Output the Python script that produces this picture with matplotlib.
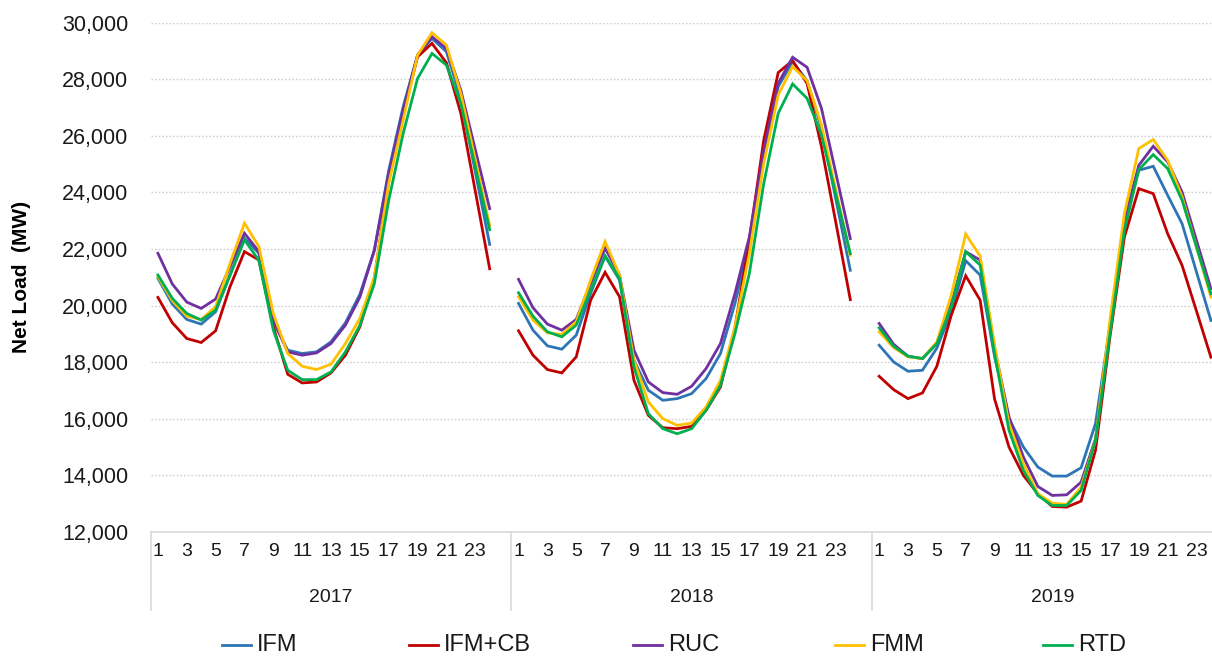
import matplotlib
matplotlib.use("Agg")
import matplotlib.pyplot as plt
import matplotlib.transforms as mtransforms
from matplotlib import font_manager
from matplotlib.lines import Line2D
import numpy as np

# ---- data -------------------------------------------------------------
years = ["2017", "2018", "2019"]
hours = list(range(1, 25))
series_names = ["IFM", "IFM+CB", "RUC", "FMM", "RTD"]
series_colors = ["#2E75B6", "#C00000", "#7030A0", "#FFC000", "#00B050"]

ifm = [
    [20965, 20055, 19512, 19347, 19784, 21083, 22382, 21851, 19430, 18426, 18308, 18367,
     18721, 19394, 20400, 21950, 24780, 27030, 28850, 29445, 28973, 27321, 24737, 22165],
    [20079, 19134, 18579, 18461, 18957, 20433, 21750, 20906, 18072, 17009, 16655, 16714,
     16891, 17422, 18308, 20070, 22194, 25380, 27740, 28625, 27950, 26265, 23752, 21250],
    [18602, 18012, 17681, 17717, 18500, 19782, 21587, 21080, 18200, 16006, 15003, 14295,
     13976, 13976, 14271, 15834, 19300, 23015, 24785, 24926, 23900, 22897, 21186, 19475],
]
ifm_cb = [
    [20292, 19394, 18839, 18697, 19111, 20670, 21910, 21614, 19252, 17575, 17268, 17304,
     17623, 18249, 19252, 20950, 24400, 26790, 28796, 29268, 28584, 26790, 24053, 21303],
    [19111, 18249, 17741, 17623, 18190, 20197, 21177, 20315, 17363, 16123, 15686, 15651,
     15733, 16300, 17127, 19200, 22312, 25852, 28236, 28661, 27858, 25616, 22926, 20212],
    [17504, 17032, 16714, 16914, 17858, 19664, 21056, 20195, 16700, 15003, 13999, 13351,
     12902, 12879, 13091, 14890, 18900, 22425, 24136, 23959, 22543, 21422, 19805, 18177],
]
ruc = [
    [21851, 20764, 20126, 19902, 20233, 21378, 22559, 21910, 19489, 18367, 18249, 18331,
     18662, 19311, 20300, 21950, 24666, 26908, 28855, 29504, 29091, 27616, 25516, 23427],
    [20929, 19926, 19347, 19134, 19512, 20788, 22028, 21083, 18426, 17304, 16926, 16867,
     17150, 17776, 18662, 20424, 22430, 25498, 27858, 28779, 28425, 26973, 24672, 22371],
    [19369, 18637, 18212, 18130, 18661, 20077, 21906, 21611, 18500, 16065, 14649, 13610,
     13292, 13315, 13764, 15300, 19300, 23015, 24962, 25634, 25080, 24018, 22306, 20596],
]
fmm = [
    [21024, 20174, 19630, 19512, 19961, 21496, 22913, 22087, 19725, 18308, 17859, 17741,
     17930, 18662, 19550, 21008, 24313, 26554, 28855, 29646, 29209, 27498, 25162, 22837],
    [20315, 19489, 19040, 18980, 19430, 20906, 22264, 21083, 18072, 16596, 16005, 15769,
     15852, 16419, 17363, 19244, 21840, 25026, 27445, 28448, 27953, 26383, 24082, 21781],
    [19074, 18519, 18189, 18130, 18720, 20372, 22531, 21752, 18600, 15829, 14413, 13351,
     13020, 12973, 13587, 15244, 19500, 23250, 25552, 25870, 25139, 23841, 22071, 20301],
]
rtd = [
    [21083, 20256, 19725, 19489, 19843, 21083, 22323, 21600, 19134, 17717, 17386, 17386,
     17658, 18367, 19300, 20772, 23722, 26082, 28029, 28914, 28501, 27144, 24914, 22684],
    [20457, 19630, 19075, 18898, 19311, 20551, 21757, 20965, 17835, 16182, 15651, 15473,
     15651, 16300, 17186, 19008, 21132, 24318, 26796, 27835, 27327, 26029, 23940, 21840],
    [19215, 18566, 18212, 18130, 18661, 19959, 21906, 21434, 18300, 15593, 14177, 13292,
     12938, 12938, 13469, 15244, 19000, 22660, 24808, 25339, 24844, 23723, 22071, 20419],
]
all_series = [ifm, ifm_cb, ruc, fmm, rtd]

y_ticks = list(range(12000, 30001, 2000))
hour_labels = [h for h in hours if h % 2 == 1]

# ---- fonts ------------------------------------------------------------
def pick_font(candidates):
    for name in candidates:
        try:
            font_manager.findfont(font_manager.FontProperties(family=name),
                                  fallback_to_default=False)
            return name
        except Exception:
            continue
    return "DejaVu Sans"

main_font = pick_font(["Liberation Sans", "DejaVu Sans"])
narrow_font = pick_font(["Liberation Sans Narrow", "Liberation Sans", "DejaVu Sans"])
plt.rcParams["font.family"] = main_font

# ---- figure -----------------------------------------------------------
W, H = 1212, 660
fig = plt.figure(figsize=(W / 100, H / 100), dpi=100)
fig.patch.set_facecolor("white")

slot = 25  # 24 hours + one empty slot per year group
left_px, right_px = 150.7, 150.7 + 3 * slot * 14.425
top_px, bottom_px = 22.7, 532.0
ax = fig.add_axes([left_px / W, (H - bottom_px) / H,
                   (right_px - left_px) / W, (bottom_px - top_px) / H])

ax.set_xlim(-0.5, 3 * slot - 0.5)
ax.set_ylim(12000, 30000)

# horizontal dotted gridlines
for v in y_ticks[1:]:
    ax.axhline(v, color="#d0d0d0", lw=1.0, ls=(0, (1.2, 1.4)), zorder=0)

for name, color, data in zip(series_names, series_colors, all_series):
    for g, vals in enumerate(data):
        x = g * slot + np.arange(len(hours))
        ax.plot(x, vals, color=color, lw=2.0, solid_joinstyle="miter",
                label=name if g == 0 else None, zorder=2)

# axes styling
for s in ["left", "right", "top"]:
    ax.spines[s].set_visible(False)
ax.spines["bottom"].set_color("#d9d9d9")
ax.spines["bottom"].set_linewidth(1.2)

ax.set_yticks(y_ticks)
ax.set_yticklabels([f"{v:,}" for v in y_ticks], fontsize=15.5, color="#1a1a1a")
ax.tick_params(axis="y", length=0, pad=16)

xt, xl = [], []
for g in range(len(years)):
    for h in hour_labels:
        xt.append(g * slot + (h - 1))
        xl.append(str(h))
ax.set_xticks(xt)
ax.set_xticklabels(xl, fontsize=14, family=narrow_font, color="#1a1a1a")
ax.tick_params(axis="x", length=0, pad=8)

# year group labels and separators
trans = mtransforms.blended_transform_factory(ax.transData, ax.transAxes)
sep_bottom = (bottom_px - 610) / (bottom_px - top_px)
year_y = (bottom_px - 598) / (bottom_px - top_px)
for g, yr in enumerate(years):
    xs = g * slot - 0.5
    ax.add_line(Line2D([xs, xs], [0, sep_bottom], transform=trans, color="#d9d9d9",
                       lw=1.2, clip_on=False))
    ax.text(g * slot + 12, year_y, yr, transform=trans, ha="center", va="center",
            fontsize=14, family=narrow_font, color="#1a1a1a")

# y axis title
fig.text(22 / W, 1 - 277 / H, "Net Load  (MW)", rotation=90, ha="center", va="center",
         fontsize=15, fontweight="bold", color="#000000")

# legend
legend_line_x = [222, 409, 633, 835, 1043]
ly = 1 - 645 / H
for name, color, lx in zip(series_names, series_colors, legend_line_x):
    fig.add_artist(Line2D([lx / W, (lx + 29) / W], [ly, ly], transform=fig.transFigure,
                          color=color, lw=2.0))
    fig.text((lx + 35) / W, ly, name, ha="left", va="center", fontsize=17,
             family=narrow_font, color="#1a1a1a")

fig.savefig("out.png", dpi=100, facecolor="white")
